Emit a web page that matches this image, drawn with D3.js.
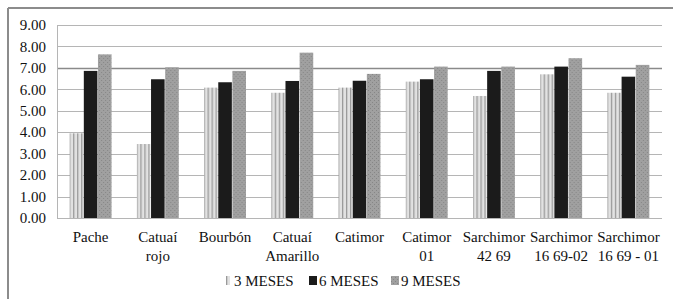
<!DOCTYPE html>
<html>
<head>
<meta charset="utf-8">
<script src="https://cdn.jsdelivr.net/npm/d3@7"></script>
<style>
  body { margin: 0; background: #fff; }
</style>
</head>
<body>
<script>
// varieties on the x axis (two lines each)
var categories = [
  ["Pache"], ["Catuaí", "rojo"], ["Bourbón"], ["Catuaí", "Amarillo"], ["Catimor"],
  ["Catimor", "01"], ["Sarchimor", "42 69"], ["Sarchimor", "16 69-02"], ["Sarchimor", "16 69 - 01"]
];
var seriesNames = ["3 MESES", "6 MESES", "9 MESES"];
var mes3 = [3.95, 3.45, 6.08, 5.84, 6.08, 6.36, 5.69, 6.70, 5.84];
var mes6 = [6.86, 6.47, 6.33, 6.39, 6.40, 6.47, 6.86, 7.06, 6.59];
var mes9 = [7.63, 7.03, 6.86, 7.71, 6.72, 7.06, 7.06, 7.45, 7.14];
var yTicks = [0, 1, 2, 3, 4, 5, 6, 7, 8, 9];

var width = 673, height = 299;
var margin = {top: 25, right: 11, bottom: 81, left: 57};
var serif = "Liberation Serif";

var svg = d3.select("body").append("svg")
  .attr("width", width)
  .attr("height", height)
  .attr("font-family", serif);

// patterns for the bars
var defs = svg.append("defs");
var p3 = defs.append("pattern").attr("id", "pat3")
  .attr("patternUnits", "userSpaceOnUse").attr("width", 4).attr("height", 4);
p3.append("rect").attr("width", 4).attr("height", 4).attr("fill", "#e2e2e2");
p3.append("rect").attr("x", 0).attr("width", 1.3).attr("height", 4).attr("fill", "#9a9a9a");

var p9 = defs.append("pattern").attr("id", "pat9")
  .attr("patternUnits", "userSpaceOnUse").attr("width", 4).attr("height", 4);
p9.append("rect").attr("width", 4).attr("height", 4).attr("fill", "#a0a0a0");
p9.append("rect").attr("x", 0).attr("y", 0).attr("width", 1).attr("height", 1).attr("fill", "#868686");
p9.append("rect").attr("x", 2).attr("y", 2).attr("width", 1).attr("height", 1).attr("fill", "#868686");

var fills = ["url(#pat3)", "#1b1b1b", "url(#pat9)"];

// chart frame (top and left edges visible)
svg.append("line").attr("x1", 8).attr("x2", width).attr("y1", 8).attr("y2", 8)
  .attr("stroke", "#8c8c8c").attr("stroke-width", 2);
svg.append("line").attr("x1", 8).attr("x2", 8).attr("y1", 8).attr("y2", height)
  .attr("stroke", "#8c8c8c").attr("stroke-width", 2);

var x0 = d3.scaleBand()
  .domain(d3.range(categories.length))
  .range([margin.left, width - margin.right])
  .paddingInner(0.36).paddingOuter(0.18);

var x1 = d3.scaleBand()
  .domain(d3.range(3))
  .range([0, x0.bandwidth()])
  .padding(0.04);

var y = d3.scaleLinear()
  .domain([0, 9])
  .range([height - margin.bottom, margin.top]);

// gridlines
svg.append("g").selectAll("line")
  .data(yTicks)
  .enter().append("line")
  .attr("x1", margin.left)
  .attr("x2", width - margin.right)
  .attr("y1", function(d) { return Math.round(y(d)) + 0.5; })
  .attr("y2", function(d) { return Math.round(y(d)) + 0.5; })
  .attr("stroke", function(d) { return d === 7 ? "#8a8a8a" : "#b5b5b5"; })
  .attr("stroke-width", function(d) { return d === 7 ? 1.5 : 1; });

// y axis line
svg.append("line")
  .attr("x1", margin.left + 0.5).attr("x2", margin.left + 0.5)
  .attr("y1", y(9)).attr("y2", y(0))
  .attr("stroke", "#b5b5b5");

// y tick labels
svg.append("g").selectAll("text")
  .data(yTicks)
  .enter().append("text")
  .attr("x", 46)
  .attr("y", function(d) { return y(d); })
  .attr("dy", "0.35em")
  .attr("text-anchor", "end")
  .attr("font-family", serif)
  .attr("font-size", 15)
  .attr("fill", "#111")
  .text(function(d) { return d3.format(".2f")(d); });

// bars
var allSeries = [mes3, mes6, mes9];
var group = svg.append("g").selectAll("g")
  .data(categories)
  .enter().append("g")
  .attr("transform", function(d, i) { return "translate(" + x0(i) + ",0)"; });

group.selectAll("rect")
  .data(function(d, i) { return allSeries.map(function(s, k) { return {k: k, v: s[i]}; }); })
  .enter().append("rect")
  .attr("x", function(d) { return x1(d.k); })
  .attr("width", x1.bandwidth())
  .attr("y", function(d) { return y(d.v); })
  .attr("height", function(d) { return y(0) - y(d.v); })
  .attr("fill", function(d) { return fills[d.k]; });

// category labels
var lab = svg.append("g").selectAll("text")
  .data(categories)
  .enter().append("text")
  .attr("x", function(d, i) { return x0(i) + x0.bandwidth() / 2; })
  .attr("y", 242)
  .attr("text-anchor", "middle")
  .attr("font-family", serif)
  .attr("font-size", 15)
  .attr("fill", "#111");
lab.selectAll("tspan")
  .data(function(d) { return d; })
  .enter().append("tspan")
  .attr("x", function() { return d3.select(this.parentNode).attr("x"); })
  .attr("dy", function(d, i) { return i === 0 ? 0 : 19; })
  .text(function(d) { return d; });

// legend
var legendX = [226, 309, 391];
var leg = svg.append("g").selectAll("g")
  .data(seriesNames)
  .enter().append("g")
  .attr("transform", function(d, i) { return "translate(" + legendX[i] + ",281)"; });
leg.append("rect")
  .attr("x", 0).attr("y", -5)
  .attr("width", function(d, i) { return i === 0 ? 4 : 8; })
  .attr("height", 9)
  .attr("fill", function(d, i) { return fills[i]; });
leg.append("text")
  .attr("x", function(d, i) { return i === 0 ? 8 : 10; })
  .attr("dy", "0.35em")
  .attr("font-family", serif)
  .attr("font-size", 15)
  .attr("fill", "#111")
  .text(function(d) { return d; });
</script>
</body>
</html>
